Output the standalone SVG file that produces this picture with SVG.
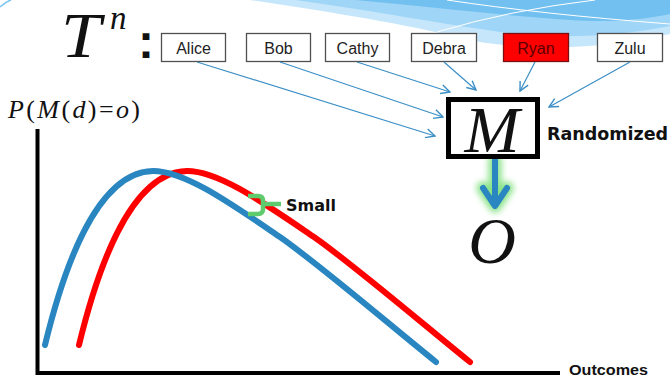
<svg xmlns="http://www.w3.org/2000/svg" width="670" height="377" viewBox="0 0 670 377">
<style>
.box{fill:#fff;stroke:#505050;stroke-width:1.3}
.name{font-family:"Liberation Sans",Arial,sans-serif;font-size:16px;fill:#222;text-anchor:middle}
.conn{fill:none;stroke:#3b8fc6;stroke-width:1.2;marker-end:url(#ah)}
.math{font-family:"Liberation Serif","Times New Roman",serif;font-style:italic;fill:#111}
.serif{font-family:"Liberation Serif","Times New Roman",serif;fill:#111}
.sans{font-family:"Liberation Sans",Arial,sans-serif;font-weight:bold;fill:#111}
.lbl{font-family:"DejaVu Sans",Verdana,sans-serif;font-weight:bold;fill:#111}
.curve{fill:none;stroke-width:6;stroke-linecap:round}
</style>
<defs>
<marker id="ah" markerUnits="userSpaceOnUse" markerWidth="12" markerHeight="12" viewBox="0 0 12 12" refX="11" refY="6" orient="auto">
<path d="M2,1.5 L11,6 L2,10.5" fill="none" stroke="#3b8fc6" stroke-width="1.4"/>
</marker>
<filter id="glow" x="-100%" y="-50%" width="300%" height="200%"><feGaussianBlur stdDeviation="3"/></filter>
</defs>
<rect width="670" height="377" fill="#fff"/>
<g id="background">
<path d="M250,0 C330,12 410,25 460,38 C520,52 600,50 670,34 L670,0 Z" fill="#c6e7fb"/>
<path d="M295,0 C380,12 450,25 500,32 C560,40 620,36 670,26 L670,0 Z" fill="#9fd5f6"/>
<path d="M355,0 C440,8 510,16 570,20 C615,23 645,19 670,14 L670,0 Z" fill="#72c0f0"/>
<path d="M447,0 Q540,14 670,24" fill="none" stroke="#fff" stroke-width="1"/>
<path d="M437,32 Q510,10 595,0" fill="none" stroke="#fff" stroke-width="1"/>
<path d="M0,7 Q5,2 11,0" fill="none" stroke="#7cc6f2" stroke-width="1.5"/>
</g>
<g id="title">
<text class="math" transform="translate(61,57) scale(1.12,1)" x="0" y="0" font-size="64">T</text>
<text class="math" x="110" y="29" font-size="33">n</text>
<text class="sans" x="138" y="58" font-size="48">:</text>
</g>
<g id="alice"><rect class="box" x="161.5" y="33.5" width="64" height="28"/><text class="name" x="193.5" y="54">Alice</text></g>
<g id="bob"><rect class="box" x="246.5" y="33.5" width="64" height="28"/><text class="name" x="278.5" y="54">Bob</text></g>
<g id="cathy"><rect class="box" x="325.5" y="33.5" width="64" height="28"/><text class="name" x="357.5" y="54">Cathy</text></g>
<g id="debra"><rect class="box" x="411.5" y="33.5" width="65" height="28"/><text class="name" x="444" y="54">Debra</text></g>
<g id="ryan"><rect x="503.5" y="33.5" width="65" height="28" fill="#ff0000" stroke="#7a1010" stroke-width="1.3"/><text class="name" x="536" y="54" style="fill:#5a0000">Ryan</text></g>
<g id="zulu"><rect class="box" x="597.5" y="33.5" width="65" height="28"/><text class="name" x="630" y="54">Zulu</text></g>
<g id="connectors">
<path class="conn" d="M197,62 L435,136"/>
<path class="conn" d="M280,62 L443,117"/>
<path class="conn" d="M357,62 L450,92"/>
<path class="conn" d="M444,62 L476,90"/>
<path class="conn" d="M535,62 L520,91"/>
<path class="conn" d="M630,62 L549,107"/>
<g id="output-arrow">
<path d="M495,160 L495,205 M483,188 L495,206 L507,188" fill="none" stroke="#7de07d" stroke-width="13" stroke-linecap="round" stroke-linejoin="round" filter="url(#glow)" opacity="0.9"/>
<path d="M495,160 L495,205 M483,188 L495,206 L507,188" fill="none" stroke="#2a86c0" stroke-width="6" stroke-linecap="round" stroke-linejoin="round"/>
</g>
</g>
<g id="mechanism">
<rect x="448.5" y="99.5" width="89" height="57" fill="#fff" stroke="#000" stroke-width="5"/>
<text class="math" x="492" y="152" font-size="66" text-anchor="middle">M</text>
</g>
<g id="randomized"><text class="lbl" x="547" y="140" font-size="17.5">Randomized</text></g>
<g id="output"><text class="math" x="492" y="263" font-size="66" text-anchor="middle">O</text></g>
<g id="ylabel">
<text class="serif" x="8" y="118" font-size="26" textLength="132" lengthAdjust="spacing"><tspan font-style="italic">P</tspan>(<tspan font-style="italic">M</tspan>(<tspan font-style="italic">d</tspan>)=<tspan font-style="italic">o</tspan>)</text>
</g>
<g id="axes">
<path d="M37.5,129 L37.5,375 M35.5,373 L560,373" fill="none" stroke="#000" stroke-width="4"/>
<text class="sans" x="569" y="375" font-size="15" textLength="79" lengthAdjust="spacingAndGlyphs">Outcomes</text>
</g>
<g id="curves">
<path class="curve" stroke="#ff0000" transform="translate(34,0)" d="M45,345 C62,275 95,172 153,171 C185,171 230,203 280,237 C320,265 390,325 436,362"/>
<path class="curve" stroke="#2a86c0" d="M45,345 C62,275 95,172 153,171 C185,171 230,203 280,237 C320,265 390,325 436,362"/>
</g>
<g id="small">
<path d="M248,196 L258,196 Q263,196 263,201 L263,204 L281,204 M263,204 L263,209 Q263,214 258,214 L248,214" fill="none" stroke="#5ecb6e" stroke-width="4.5" stroke-linejoin="round"/>
<text class="lbl" x="286" y="211" font-size="16">Small</text>
</g>
</svg>
